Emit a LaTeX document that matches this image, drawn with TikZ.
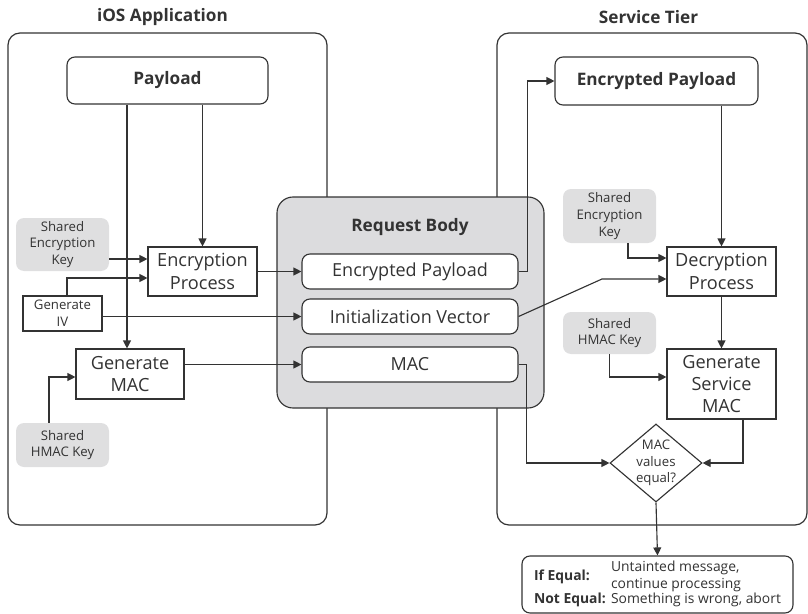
\documentclass[tikz,border=0pt]{standalone}
\usepackage{fontspec}
\setmainfont{Open Sans}
\usetikzlibrary{arrows.meta,shapes.geometric,calc}
\definecolor{ink}{HTML}{333333}
\definecolor{keygray}{HTML}{DFDFE0}
\definecolor{bodygray}{HTML}{DCDCDE}
\tikzset{
  every node/.style={text=ink, inner sep=0pt, align=center},
  cont/.style={draw=ink, line width=0.9pt, rounded corners=9pt},
  rbox/.style={draw=ink, line width=0.85pt, rounded corners=6pt, fill=white},
  pbox/.style={draw=ink, line width=0.85pt, fill=white, font=\fontsize{13.6}{16.8}\selectfont},
  keybox/.style={fill=keygray, rounded corners=6pt, font=\fontsize{9.9}{12.6}\selectfont},
  ttl/.style={font=\bfseries\fontsize{12.9}{15}\selectfont},
  arr/.style={draw=ink, line width=0.85pt, -{Triangle[length=6pt,width=6pt]}},
}
\begin{document}
\begin{tikzpicture}[x=0.75pt,y=-0.75pt]
\useasboundingbox (0,0) rectangle (808,614);
% containers
\node[cont, minimum width=319*0.75pt, minimum height=492*0.75pt] (leftC) at (167.5,279) {};
\node[cont, minimum width=310*0.75pt, minimum height=492*0.75pt] (rightC) at (652,279) {};
\node[ttl] (t1) at (162.5,17) {iOS Application};
\node[ttl] (t2) at (648.5,17) {Service Tier};
% left side
\node[rbox, ttl, minimum width=201*0.75pt, minimum height=47*0.75pt] (payload) at (167.5,80.5) {Payload};
\node[pbox, minimum width=109*0.75pt, minimum height=49*0.75pt] (encP) at (202.5,271.5) {Encryption\\Process};
\node[keybox, minimum width=93*0.75pt, minimum height=53*0.75pt] (sekL) at (62.5,244.5) {Shared\\Encryption\\Key};
\node[draw=ink, line width=0.85pt, font=\fontsize{9.9}{12.6}\selectfont, minimum width=79*0.75pt, minimum height=35*0.75pt] (genIV) at (62.5,313.5) {Generate\\IV};
\node[pbox, minimum width=108*0.75pt, minimum height=50*0.75pt] (genMAC) at (130,374) {Generate\\MAC};
\node[keybox, minimum width=93*0.75pt, minimum height=44*0.75pt] (shkL) at (62.5,445) {Shared\\HMAC Key};
% request body
\node[draw=ink, line width=0.85pt, fill=bodygray, rounded corners=12pt, minimum width=267*0.75pt, minimum height=211*0.75pt] (rb) at (410.5,302.5) {};
\node[ttl] (rbt) at (410,227) {Request Body};
\node[rbox, font=\fontsize{13.5}{16}\selectfont, minimum width=216*0.75pt, minimum height=35*0.75pt] (rbEP) at (410,271.5) {Encrypted Payload};
\node[rbox, font=\fontsize{13.5}{16}\selectfont, minimum width=216*0.75pt, minimum height=35*0.75pt] (rbIV) at (410,316.5) {Initialization Vector};
\node[rbox, font=\fontsize{13.5}{16}\selectfont, minimum width=216*0.75pt, minimum height=35*0.75pt] (rbMAC) at (410,364.5) {MAC};
% right side
\node[rbox, ttl, minimum width=203*0.75pt, minimum height=48*0.75pt] (srvEP) at (656.5,81) {Encrypted Payload};
\node[keybox, minimum width=93*0.75pt, minimum height=54*0.75pt] (sekR) at (609.5,216) {Shared\\Encryption\\Key};
\node[pbox, minimum width=109*0.75pt, minimum height=49*0.75pt] (decP) at (721.5,271.5) {Decryption\\Process};
\node[keybox, minimum width=93*0.75pt, minimum height=42*0.75pt] (shkR) at (609.5,333) {Shared\\HMAC Key};
\node[pbox, minimum width=109*0.75pt, minimum height=70*0.75pt] (genSMAC) at (721.5,384) {Generate\\Service\\MAC};
\node[diamond, draw=ink, line width=0.85pt, fill=white, minimum width=92*0.75pt, minimum height=78*0.75pt,
  label={[font=\fontsize{9.9}{12.6}\selectfont, align=center]center:MAC\\values\\equal?}] (dia) at (656,463) {};
\node[rbox, minimum width=271*0.75pt, minimum height=57*0.75pt, font=\fontsize{10.4}{12.4}\selectfont] (res) at (657.5,584.5)
 {\begin{tabular}{@{}l@{\hspace{4pt}}l@{}}
  \textbf{If Equal:} & \begin{tabular}[c]{@{}l@{}}Untainted message,\\continue processing\end{tabular}\\[-1pt]
  \textbf{Not Equal:} & Something is wrong, abort
  \end{tabular}};
% helper coordinates
\coordinate (xa) at (127,0);
\coordinate (ya) at (0,259);
\coordinate (yb) at (0,278);
\coordinate (yc) at (0,377);
\coordinate (xiv) at (67,0);
\coordinate (xhk) at (49,0);
\coordinate (ivk) at (602,279);
\coordinate (sekk) at (628,258);
\coordinate (xg) at (743,0);
% connectors left
\draw[arr] (payload.south -| xa) -- (genMAC.north -| xa);
\draw[arr] (payload.south -| encP.north) -- (encP.north);
\draw[arr] (sekL.east |- ya) -- (encP.west |- ya);
\draw[arr] (genIV.north -| xiv) |- (encP.west |- yb);
\draw[arr] (genIV.east |- rbIV.west) -- (rbIV.west);
\draw[arr] (shkL.north -| xhk) |- (genMAC.west |- yc);
\draw[arr] (genMAC.east |- rbMAC.west) -- (rbMAC.west);
\draw[arr] (encP.east |- rbEP.west) -- (rbEP.west);
% connectors right
\draw[arr] (rbEP.east) -- ++(9,0) |- (srvEP.west);
\draw[arr] (rbIV.east) -- (ivk) -- (decP.west |- ivk);
\draw[arr] (srvEP.south -| decP.north) -- (decP.north);
\draw[arr] (sekR.south -| sekk) |- (decP.west |- sekk);
\draw[arr] (decP.south) -- (genSMAC.north);
\draw[arr] (shkR.south) |- (genSMAC.west |- yc);
\draw[arr] (rbMAC.east) -- ++(8,0) |- (dia.west);
\draw[arr] (genSMAC.south -| xg) |- (dia.east);
\draw[arr] (dia.south) -- (res.north);
\end{tikzpicture}
\end{document}
